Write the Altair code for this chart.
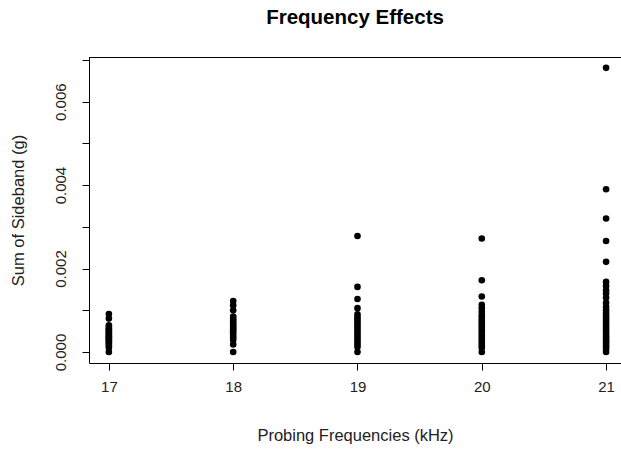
import altair as alt
import pandas as pd

freq_17 = [0.00, 0.10, 0.15, 0.19, 0.22, 0.26, 0.29, 0.32, 0.35, 0.38, 0.41, 0.44, 0.47, 0.50, 0.53, 0.56, 0.60, 0.64, 0.80, 0.91]
freq_18 = [0.00, 0.18, 0.29, 0.35, 0.41, 0.47, 0.52, 0.56, 0.61, 0.66, 0.70, 0.75, 0.80, 0.85, 1.00, 1.12, 1.22]
freq_19 = [0.00, 0.12, 0.18, 0.24, 0.30, 0.36, 0.41, 0.47, 0.53, 0.59, 0.65, 0.71, 0.77, 0.83, 0.90, 1.05, 1.27, 1.56, 2.78]
freq_20 = [0.00, 0.10, 0.16, 0.22, 0.28, 0.34, 0.40, 0.46, 0.52, 0.58, 0.64, 0.70, 0.76, 0.82, 0.88, 0.96, 1.05, 1.13, 1.33, 1.72, 2.72]
freq_21 = [0.00, 0.08, 0.14, 0.20, 0.26, 0.32, 0.38, 0.44, 0.50, 0.56, 0.62, 0.68, 0.74, 0.80, 0.86, 0.92, 1.00, 1.08, 1.18, 1.30, 1.40, 1.48, 1.58, 1.68, 2.16, 2.66, 3.20, 3.90, 6.81]

groups = {17: freq_17, 18: freq_18, 19: freq_19, 20: freq_20, 21: freq_21}
rows = []
for f, vals in groups.items():
    for v in vals:
        rows.append({"freq": f, "sideband": v / 1000.0})
df = pd.DataFrame(rows)

W, H = 532, 306
font = "Liberation Sans"

points = alt.Chart(df).mark_circle(size=44, color="black", opacity=1).encode(
    x=alt.X("freq:Q",
            scale=alt.Scale(domain=[16.84, 21.12], nice=False, zero=False),
            axis=alt.Axis(values=[17, 18, 19, 20, 21], format="d", grid=False,
                          tickSize=7, tickColor="black", domainColor="black",
                          labelFontSize=15, labelColor="#222222", labelFont=font,
                          labelPadding=9, title="Probing Frequencies (kHz)",
                          titleFontSize=16.5, titleFont=font, titleFontWeight="normal",
                          titleColor="#222222", titlePadding=33)),
    y=alt.Y("sideband:Q",
            scale=alt.Scale(domain=[-0.000264, 0.00707], nice=False, zero=False),
            axis=alt.Axis(values=[0, 0.001, 0.002, 0.003, 0.004, 0.005, 0.006, 0.007],
                          labelExpr="(round(datum.value*1000) % 2 == 0) ? format(datum.value, '.3f') : ''",
                          grid=False, tickSize=7, tickColor="black", domainColor="black",
                          labelFontSize=15, labelColor="#222222", labelFont=font,
                          labelAngle=-90, labelAlign="center", labelBaseline="bottom",
                          labelPadding=14, title="Sum of Sideband (g)",
                          titleFontSize=16.5, titleFont=font, titleFontWeight="normal",
                          titleColor="#222222", titlePadding=27)),
)

top_rule = alt.Chart(df).mark_rule(color="black", strokeWidth=1).encode(
    x=alt.value(0), x2=alt.value(W), y=alt.value(0.5)
)

chart = alt.layer(points, top_rule).properties(
    width=W, height=H,
    title=alt.TitleParams("Frequency Effects", fontSize=20.5, font=font, fontWeight="bold",
                          color="black", anchor="middle", offset=29),
    autosize=alt.AutoSizeParams(type="none"),
    padding={"left": 89, "top": 57, "right": 0, "bottom": 88},
).configure_view(stroke=None).configure(background="white")

chart.save("out.html", embed_options={"renderer": "svg", "actions": False})
